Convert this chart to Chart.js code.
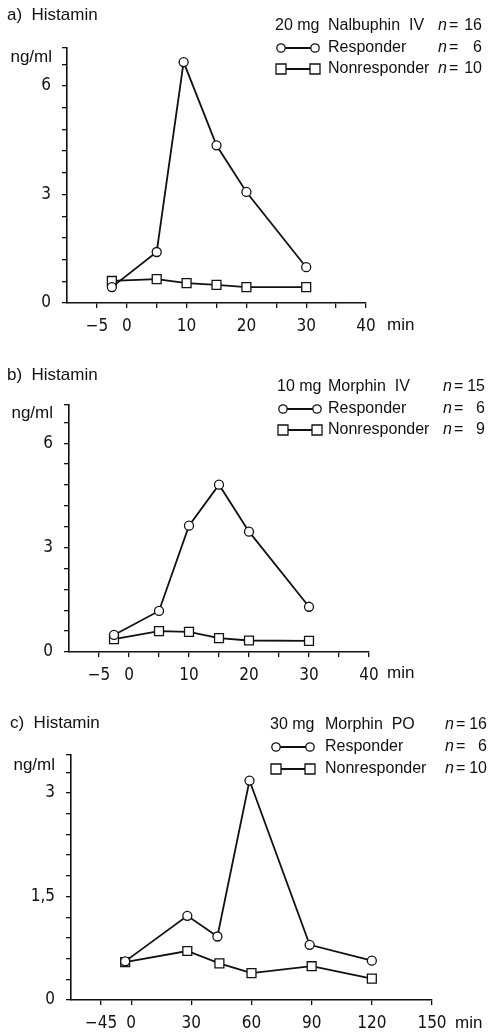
<!DOCTYPE html>
<html>
<head>
<meta charset="utf-8">
<script src="https://cdn.jsdelivr.net/npm/chart.js@4.4.0/dist/chart.umd.min.js"></script>
<style>
body{margin:0;background:#fff;width:491px;height:1033px;position:relative;overflow:hidden}
canvas{position:absolute;left:0}
</style>
</head>
<body>
<canvas id="chartA" style="top:0" width="491" height="345"></canvas>
<canvas id="chartB" style="top:345px" width="491" height="345"></canvas>
<canvas id="chartC" style="top:690px" width="491" height="343"></canvas>
<script>
// a) 20 mg Nalbuphin IV
var timeRespA = [-2.5, 5, 9.5, 15, 20, 30];
var respA = [0.44, 1.41, 6.66, 4.36, 3.07, 0.99];
var timeNonA = [-2.5, 5, 10, 15, 20, 30];
var nonA = [0.61, 0.66, 0.55, 0.50, 0.44, 0.44];

// b) 10 mg Morphin IV
var timeRespB = [-2.5, 5, 10, 15, 20, 30];
var respB = [0.49, 1.18, 3.63, 4.81, 3.46, 1.30];
var timeNonB = [-2.5, 5, 10, 15, 20, 30];
var nonB = [0.37, 0.60, 0.58, 0.40, 0.33, 0.32];

// c) 30 mg Morphin PO
var timeRespC = [-3, 28, 43, 59, 89, 120];
var respC = [0.56, 1.22, 0.92, 3.18, 0.80, 0.57];
var timeNonC = [-3, 28, 44, 60, 90, 120];
var nonC = [0.55, 0.71, 0.53, 0.39, 0.49, 0.31];

// ticks
var yTicksAB = [0, 0.6, 1.2, 1.8, 2.4, 3, 3.6, 4.2, 4.8, 5.4, 6, 6.6];
var yLabelValsAB = [0, 3, 6];
var yLabelTextAB = ['0', '3', '6'];
var yTicksC = [0, 0.3, 0.6, 0.9, 1.2, 1.5, 1.8, 2.1, 2.4, 2.7, 3, 3.3];
var yLabelValsC = [0, 1.5, 3];
var yLabelTextC = ['0', '1,5', '3'];
var xTicksAB = [-5, 0, 5, 10, 15, 20, 25, 30, 35, 40];
var xLabelValsAB = [-5, 0, 10, 20, 30, 40];
var xLabelTextAB = ['\u22125', '0', '10', '20', '30', '40'];
var xTicksC = [-15, 0, 30, 60, 90, 120, 150];
var xLabelValsC = [-15, 0, 30, 60, 90, 120, 150];
var xLabelTextC = ['\u221245', '0', '30', '60', '90', '120', '150'];

// legend texts
var seriesNames = ['Responder', 'Nonresponder'];
var headA = ['20 mg', 'Nalbuphin  IV'], countA = [16, 6, 10];
var headB = ['10 mg', 'Morphin  IV'], countB = [15, 6, 9];
var headC = ['30 mg', 'Morphin  PO'], countC = [16, 6, 10];

var ink = '#111';
var tickFamily = "'DejaVu Sans Condensed', 'DejaVu Sans', sans-serif";
var textFamily = "'Liberation Sans', Arial, sans-serif";

function pairs(xs, ys){
    return xs.map(function(x, i){ return {x: x, y: ys[i]}; });
}

function labelFor(vals, texts){
    return function(v){
        var i = vals.indexOf(v);
        return i >= 0 ? texts[i] : '';
    };
}

function textsPlugin(o){
    return {
        id: 'texts',
        afterDraw: function(chart){
            var c = chart.ctx;
            c.save();
            c.fillStyle = ink;
            c.strokeStyle = ink;
            c.textBaseline = 'middle';
            c.font = '17px ' + textFamily;
            c.textAlign = 'left';
            c.fillText(o.title, o.titleX, o.titleY);
            c.textAlign = 'right';
            c.fillText('ng/ml', o.unitX, o.unitY);
            c.textAlign = 'left';
            c.fillText('min', o.minX, o.minY);

            var L = o.leg;
            for (var r = 0; r < 3; r++){
                var y = L.rows[r];
                c.font = '16px ' + textFamily;
                c.textAlign = 'left';
                if (r == 0){
                    c.fillText(o.head[0], L.x1, y);
                    c.fillText(o.head[1], L.x2, y);
                } else {
                    c.fillText(seriesNames[r - 1], L.x2, y);
                    var a = L.x1 + 6, b = L.x1 + 40;
                    c.lineWidth = 1.8;
                    c.beginPath(); c.moveTo(a, y); c.lineTo(b, y); c.stroke();
                    c.lineWidth = 1.3;
                    c.fillStyle = '#fff';
                    [a, b].forEach(function(px){
                        c.beginPath();
                        if (r == 1) c.arc(px, y, 4.2, 0, Math.PI * 2);
                        else c.rect(px - 5, y - 5, 10, 10);
                        c.fill(); c.stroke();
                    });
                    c.fillStyle = ink;
                }
                c.font = 'italic 16px ' + textFamily;
                c.fillText('n', L.x3, y);
                c.font = '16px ' + textFamily;
                c.fillText('=', L.x3 + 11, y);
                c.textAlign = 'right';
                c.fillText(String(o.count[r]), L.xr, y);
            }
            c.restore();
        }
    };
}

function makePanel(id, o){
    var ctx = document.getElementById(id).getContext('2d');
    var H = ctx.canvas.height;
    var tickFont = {family: tickFamily, size: 17};
    return new Chart(ctx, {
        type: 'line',
        data: {
            datasets: [
                {
                    label: seriesNames[0],
                    data: pairs(o.tResp, o.resp),
                    borderColor: ink, borderWidth: 1.8,
                    pointStyle: 'circle', pointRadius: 4.5,
                    pointBackgroundColor: '#fff', pointBorderColor: ink, pointBorderWidth: 1.3,
                    lineTension: 0, fill: false
                },
                {
                    label: seriesNames[1],
                    data: pairs(o.tNon, o.non),
                    borderColor: ink, borderWidth: 1.8,
                    pointStyle: 'rect', pointRadius: 6.3,
                    pointBackgroundColor: '#fff', pointBorderColor: ink, pointBorderWidth: 1.3,
                    lineTension: 0, fill: false
                }
            ]
        },
        options: {
            responsive: false,
            animation: false,
            layout: {padding: {left: 0, top: o.area.top, right: 491 - o.area.right, bottom: 0}},
            plugins: {legend: {display: false}, tooltip: {enabled: false}},
            scales: {
                x: {
                    type: 'linear', min: o.xMin, max: o.xMax,
                    afterBuildTicks: function(s){ s.ticks = o.xTicks.map(function(v){ return {value: v}; }); },
                    afterFit: function(s){ s.height = H - o.area.bottom; },
                    grid: {drawOnChartArea: false, tickLength: 5, color: ink, lineWidth: 1.3},
                    border: {color: ink, width: 1.6},
                    ticks: {autoSkip: false, maxRotation: 0, padding: 8, color: ink, font: tickFont,
                            callback: labelFor(o.xVals, o.xTexts)}
                },
                y: {
                    type: 'linear', min: 0, max: o.yMax,
                    afterBuildTicks: function(s){ s.ticks = o.yTicks.concat([o.yMax]).map(function(v){ return {value: v}; }); },
                    afterFit: function(s){ s.width = o.area.left; },
                    grid: {drawOnChartArea: false, tickLength: 5, color: ink, lineWidth: 1.3},
                    border: {color: ink, width: 1.6},
                    ticks: {autoSkip: false, padding: 11, color: ink, font: tickFont,
                            callback: labelFor(o.yVals, o.yTexts)}
                }
            }
        },
        plugins: [textsPlugin(o)]
    });
}

makePanel('chartA', {
    tResp: timeRespA, resp: respA, tNon: timeNonA, non: nonA,
    xMin: -10, xMax: 40, yMax: 7.05,
    xTicks: xTicksAB, xVals: xLabelValsAB, xTexts: xLabelTextAB,
    yTicks: yTicksAB, yVals: yLabelValsAB, yTexts: yLabelTextAB,
    area: {left: 67, right: 366, top: 48, bottom: 303},
    title: 'a)  Histamin', titleX: 7, titleY: 15,
    unitX: 52, unitY: 57, minX: 387, minY: 325,
    head: headA, count: countA,
    leg: {rows: [26, 48, 69], x1: 275, x2: 328, x3: 438, xr: 482}
});

makePanel('chartB', {
    tResp: timeRespB, resp: respB, tNon: timeNonB, non: nonB,
    xMin: -10, xMax: 40, yMax: 7.1,
    xTicks: xTicksAB, xVals: xLabelValsAB, xTexts: xLabelTextAB,
    yTicks: yTicksAB, yVals: yLabelValsAB, yTexts: yLabelTextAB,
    area: {left: 69, right: 369, top: 60, bottom: 307},
    title: 'b)  Histamin', titleX: 7, titleY: 30,
    unitX: 53, unitY: 68, minX: 387, minY: 328,
    head: headB, count: countB,
    leg: {rows: [42, 64, 85], x1: 277, x2: 328, x3: 443, xr: 485}
});

makePanel('chartC', {
    tResp: timeRespC, resp: respC, tNon: timeNonC, non: nonC,
    xMin: -30, xMax: 150, yMax: 3.55,
    xTicks: xTicksC, xVals: xLabelValsC, xTexts: xLabelTextC,
    yTicks: yTicksC, yVals: yLabelValsC, yTexts: yLabelTextC,
    area: {left: 71, right: 432, top: 65, bottom: 310},
    title: 'c)  Histamin', titleX: 10, titleY: 33,
    unitX: 55, unitY: 75, minX: 455, minY: 333,
    head: headC, count: countC,
    leg: {rows: [35, 57, 79], x1: 270, x2: 325, x3: 445, xr: 487}
});
</script>
</body>
</html>
